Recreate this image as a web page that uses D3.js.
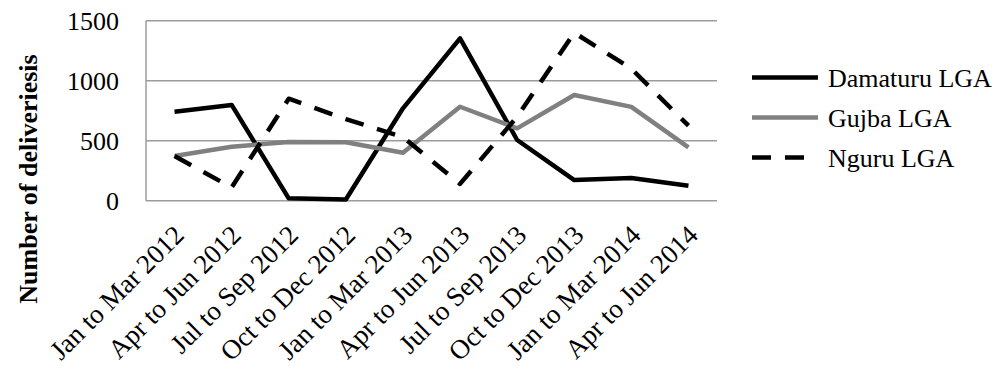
<!DOCTYPE html>
<html><head><meta charset="utf-8">
<script src="https://cdn.jsdelivr.net/npm/d3@7/dist/d3.min.js"></script>
<style>body{margin:0;background:#fff}svg{display:block}</style>
</head><body><svg id="c" width="1007" height="374"></svg>
<script>
const categories = ["Jan to Mar 2012","Apr to Jun 2012","Jul to Sep 2012","Oct to Dec 2012","Jan to Mar 2013","Apr to Jun 2013","Jul to Sep 2013","Oct to Dec 2013","Jan to Mar 2014","Apr to Jun 2014"];
const damaturu = [742, 798, 20, 10, 770, 1353, 506, 172, 190, 125];
const gujba = [372, 450, 490, 487, 400, 783, 603, 881, 782, 445];
const nguru = [372, 110, 850, 680, 530, 140, 700, 1400, 1100, 625];
const yTicks = [0, 500, 1000, 1500];
const seriesNames = ["Damaturu LGA", "Gujba LGA", "Nguru LGA"];
const yTitle = "Number of deliveriesis";

const FONT = '"Liberation Serif","Times New Roman",serif';
const series = [
  {name: seriesNames[0], values: damaturu, color: "#000", dash: null},
  {name: seriesNames[1], values: gujba, color: "#808080", dash: null},
  {name: seriesNames[2], values: nguru, color: "#000", dash: "19,14"}
];

const svg = d3.select("#c");
const L = 146, R = 717, T = 20.7, B = 200.7;
const x = d3.scaleBand().domain(categories).range([L, R]);
const y = d3.scaleLinear().domain([0, 1500]).range([B, T]);

// gridlines
svg.append("g").selectAll("line").data(yTicks).join("line")
  .attr("x1", L).attr("x2", R).attr("y1", d => y(d)).attr("y2", d => y(d))
  .attr("stroke", "#9c9c9c").attr("stroke-width", 1.5);
svg.append("line").attr("x1", L).attr("x2", L).attr("y1", T).attr("y2", B)
  .attr("stroke", "#9c9c9c").attr("stroke-width", 1.5);

// y axis labels
const yAxis = d3.axisLeft(y).tickValues(yTicks).tickSize(0).tickPadding(27).tickFormat(d3.format("d"));
const gy = svg.append("g").attr("transform", `translate(${L},0)`).call(yAxis)
  .attr("font-family", FONT).attr("font-size", 26);
gy.select(".domain").remove();
gy.selectAll("text").attr("fill", "#000");

// x axis labels
const gx = svg.append("g").attr("transform", `translate(0,${B})`)
  .call(d3.axisBottom(x).tickSize(0).tickFormat(d => d))
  .attr("font-family", FONT).attr("font-size", 27);
gx.select(".domain").remove();
gx.selectAll("text").attr("fill", "#000")
  .attr("text-anchor", "end").attr("dy", null).attr("y", 0)
  .attr("transform", "translate(11,36) rotate(-45)");

// y title
svg.append("text").attr("transform", "translate(37,179) rotate(-90)")
  .attr("text-anchor", "middle").attr("font-size", 26).attr("font-weight", "bold")
  .attr("font-family", FONT)
  .text(yTitle);

// lines
const line = d3.line().x((d, i) => x(categories[i]) + x.bandwidth() / 2).y(d => y(d));
series.forEach(s => {
  svg.append("path").attr("d", line(s.values)).attr("fill", "none")
    .attr("stroke", s.color).attr("stroke-width", 4.5)
    .attr("stroke-linejoin", "round")
    .attr("stroke-dasharray", s.dash);
});

// legend
const lg = svg.append("g").attr("font-family", FONT).attr("font-size", 26);
series.forEach((s, i) => {
  const yy = 77.5 + i * 40;
  lg.append("line").attr("x1", 752).attr("x2", 818).attr("y1", yy).attr("y2", yy)
    .attr("stroke", s.color).attr("stroke-width", 4.5).attr("stroke-dasharray", s.dash ? "19,14" : null);
  lg.append("text").attr("x", 828).attr("y", yy).attr("dy", "0.35em").text(s.name);
});
</script></body></html>
